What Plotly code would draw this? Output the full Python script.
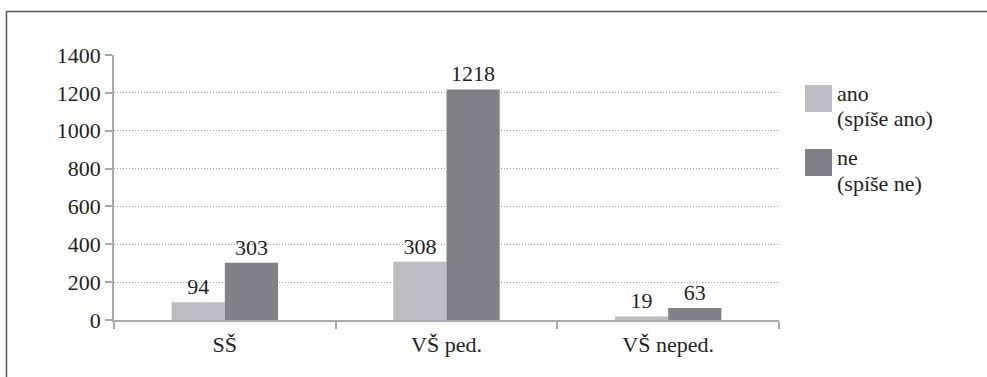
import plotly.graph_objects as go

# Data
categories = ["SŠ", "VŠ ped.", "VŠ neped."]
series_names = ["ano<br>(spíše ano)", "ne<br>(spíše ne)"]
ano_values = [94, 308, 19]
ne_values = [303, 1218, 63]
y_ticks = [0, 200, 400, 600, 800, 1000, 1200, 1400]

W, H = 987, 377
ML, MR, MT, MB = 114, 208, 55, 57

FONT = "Liberation Serif, Times New Roman, serif"
TXT = "#231f20"
LIGHT = "#bcbdc0"
DARK = "#808184"
AXIS = "#a7a9ac"
FS = 22

fig = go.Figure()
for name, vals, col in [(series_names[0], ano_values, LIGHT), (series_names[1], ne_values, DARK)]:
    fig.add_trace(go.Bar(
        x=categories, y=vals, name=name, marker=dict(color=col, line=dict(width=0)),
        text=[str(v) for v in vals], textposition="outside", cliponaxis=False,
        textfont=dict(family=FONT, size=FS, color=TXT), showlegend=False,
    ))

# Legend drawn as boxes with two-line labels
def px_x(x):
    return (x - ML) / (W - ML - MR)

def px_y(y):
    return 1 - (y - MT) / (H - MT - MB)

shapes = []
annotations = []
for i, (name, col) in enumerate(zip(series_names, [LIGHT, DARK])):
    top = 85 + i * 64
    shapes.append(dict(type="rect", xref="paper", yref="paper",
                       x0=px_x(805), x1=px_x(832), y0=px_y(top + 27), y1=px_y(top),
                       fillcolor=col, line=dict(width=0)))
    for j, line in enumerate(name.split("<br>")):
        annotations.append(dict(xref="paper", yref="paper", x=px_x(835), y=px_y(top + 8 + 26 * j),
                                xanchor="left", yanchor="middle", align="left", showarrow=False,
                                text=line, font=dict(family=FONT, size=FS, color=TXT)))

# Outer frame lines (top and left)
shapes.append(dict(type="line", xref="paper", yref="paper", x0=px_x(7), x1=px_x(W), y0=px_y(11.5), y1=px_y(11.5),
                   line=dict(color="#555555", width=1.5)))
shapes.append(dict(type="line", xref="paper", yref="paper", x0=px_x(6.5), x1=px_x(6.5), y0=px_y(11), y1=px_y(H),
                   line=dict(color="#555555", width=1.5)))

fig.update_layout(
    width=W, height=H, margin=dict(l=ML, r=MR, t=MT, b=MB),
    paper_bgcolor="white", plot_bgcolor="white",
    barmode="group", bargap=0.52, bargroupgap=0,
    font=dict(family=FONT, size=FS, color=TXT),
    shapes=shapes, annotations=annotations, showlegend=False,
)
fig.update_xaxes(
    showline=True, linecolor=AXIS, linewidth=1.5,
    ticks="outside", tickson="boundaries", ticklen=7, tickcolor=AXIS, tickwidth=1.5,
    tickfont=dict(family=FONT, size=FS, color=TXT), showgrid=False, ticklabelstandoff=4,
)
fig.update_yaxes(
    range=[0, 1400], tickvals=y_ticks, showline=True, linecolor=AXIS, linewidth=1.5,
    ticks="outside", ticklen=7, tickcolor=AXIS, tickwidth=1.5,
    showgrid=True, gridcolor="#999999", griddash="1px,2px", gridwidth=1,
    zeroline=False, tickfont=dict(family=FONT, size=FS, color=TXT),
)

fig.write_html("out.html")
